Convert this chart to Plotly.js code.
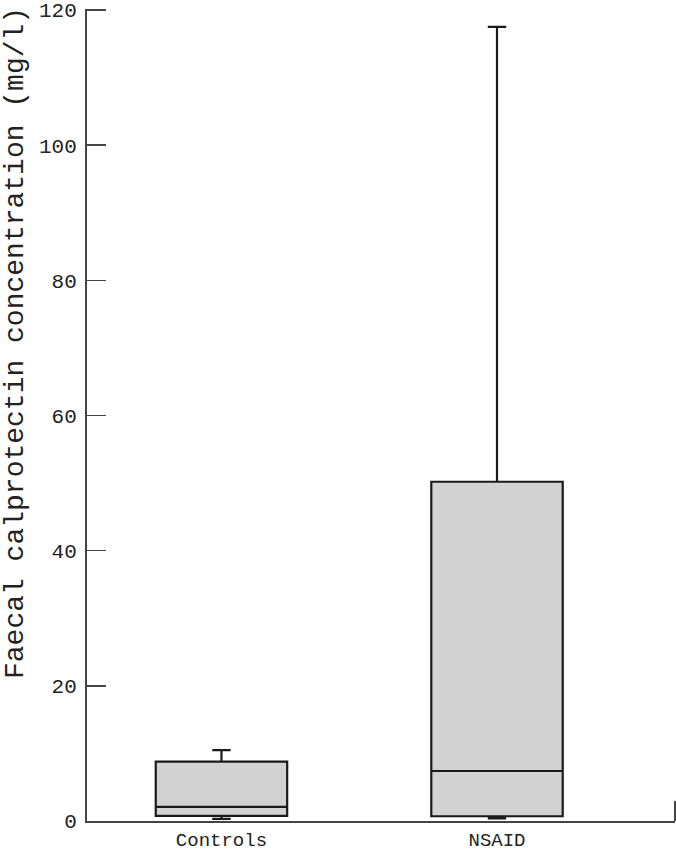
<!DOCTYPE html>
<html>
<head>
<meta charset="utf-8">
<script src="https://cdn.plot.ly/plotly-3.0.1.min.js"></script>
<style>
  html, body { margin: 0; padding: 0; background: #fff; }
  #chart { width: 676px; height: 852px; }
</style>
</head>
<body>
<div id="chart"></div>
<script>
"use strict";

// groups on the x axis
const groups = ["Controls", "NSAID"];

// box statistics (mg/l)
const lowerFence = [0.3, 0.4];
const q1Vals = [0.75, 0.7];
const medianVals = [2.1, 7.4];
const q3Vals = [8.8, 50.2];
const upperFence = [10.5, 117.5];

// y ticks
const yTicks = [0, 20, 40, 60, 80, 100, 120];

const monoFont = "Liberation Mono, Courier New, monospace";

const trace = {
    type: "box",
    x: groups,
    q1: q1Vals,
    median: medianVals,
    q3: q3Vals,
    lowerfence: lowerFence,
    upperfence: upperFence,
    boxpoints: false,
    width: 0.477,
    whiskerwidth: 0.14,
    fillcolor: "#d2d2d2",
    line: { color: "#1a1a1a", width: 2.2 },
    hoverinfo: "skip",
    showlegend: false
};

const layout = {
    width: 676,
    height: 852,
    margin: { l: 87, r: 1, t: 9, b: 31 },
    paper_bgcolor: "#fff",
    plot_bgcolor: "#fff",
    showlegend: false,
    font: { family: monoFont, color: "#222" },
    xaxis: {
        type: "category",
        range: [-0.488, 1.646],
        showline: true,
        linecolor: "#444",
        linewidth: 2,
        showgrid: false,
        zeroline: false,
        ticks: "",
        ticklabelstandoff: 0,
        ticklabeloverflow: "allow",
        tickfont: { family: monoFont, size: 19, color: "#222" }
    },
    yaxis: {
        range: [0, 120.15],
        tickvals: yTicks,
        ticktext: yTicks.map(String),
        ticks: "inside",
        ticklen: 19,
        tickwidth: 1.5,
        tickcolor: "#444",
        showline: true,
        linecolor: "#444",
        linewidth: 2,
        showgrid: false,
        zeroline: false,
        ticklabelstandoff: 4,
        ticklabeloverflow: "allow",
        tickfont: { family: monoFont, size: 21, color: "#222" }
    },
    annotations: [{
        text: "Faecal calprotectin concentration (mg/l)",
        xref: "paper", yref: "paper",
        x: -0.122, y: 0.589,
        xanchor: "center", yanchor: "middle",
        textangle: -90,
        showarrow: false,
        font: { family: monoFont, size: 28, color: "#222" }
    }],
    shapes: [{
        // small closing tick at the right end of the x axis
        type: "line",
        xref: "paper", yref: "paper",
        x0: 1, x1: 1, y0: 0, y1: 0.0245,
        line: { color: "#444", width: 2 }
    }]
};

Plotly.newPlot("chart", [trace], layout, { displayModeBar: false, staticPlot: true });
</script>
</body>
</html>
